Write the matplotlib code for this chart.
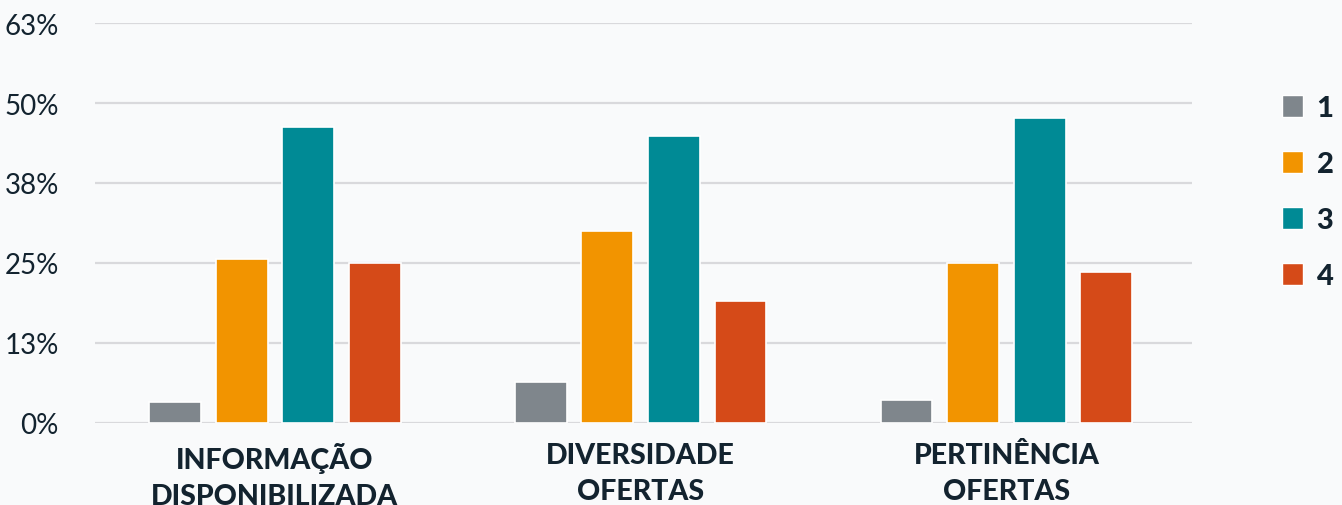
import matplotlib
matplotlib.use("Agg")
import matplotlib.pyplot as plt
from matplotlib.patches import Patch
import numpy as np

categories = ["INFORMAÇÃO\nDISPONIBILIZADA", "DIVERSIDADE\nOFERTAS", "PERTINÊNCIA\nOFERTAS"]
series_names = ["1", "2", "3", "4"]
s1 = [3.2, 6.3, 3.5]
s2 = [25.6, 30.0, 24.9]
s3 = [46.3, 44.8, 47.7]
s4 = [24.9, 19.0, 23.6]
yticks = [0, 12.5, 25, 37.5, 50, 62.5]
ytick_labels = ["0%", "13%", "25%", "38%", "50%", "63%"]

colors = ["#7f868c", "#f29400", "#008a95", "#d54a18"]
bg = "#f9fafb"
textc = "#13232f"

fig = plt.figure(figsize=(13.42, 5.06), dpi=100, facecolor=bg)
ax = fig.add_axes([0.0708, 0.163, 0.8175, 0.789], facecolor=bg)

x = np.arange(len(categories))
pitch = 0.182
width = 0.142
for i, (vals, name) in enumerate(zip([s1, s2, s3, s4], series_names)):
    ax.bar(x + (i - 1.5) * pitch, vals, width, color=colors[i],
           edgecolor="white", linewidth=1.2, zorder=3, label=name)

ax.set_xlim(-0.492, 2.508)
ax.set_ylim(0, 62.5)
ax.set_yticks(yticks)
ax.set_yticklabels(ytick_labels, fontsize=20, color=textc, family="Lato", fontweight="normal")
ax.set_xticks(x)
ax.set_xticklabels(categories, fontsize=20.5, color=textc, family="Lato",
                   fontweight="black", linespacing=1.5)
ax.tick_params(axis="y", length=0, pad=26)
ax.tick_params(axis="x", length=0, pad=14)
ax.grid(axis="y", color="#d9d9dc", linewidth=1.6, zorder=0)
ax.set_axisbelow(True)
for s in ax.spines.values():
    s.set_visible(False)

handles = [Patch(facecolor=c, edgecolor="white", linewidth=1) for c in colors]
leg = fig.legend(handles, series_names, loc="upper left", bbox_to_anchor=(0.955, 0.810),
                 frameon=False, handlelength=0.75, handleheight=0.75,
                 labelspacing=1.03, handletextpad=0.45, borderaxespad=0, borderpad=0,
                 prop={"family": "Lato", "weight": "black", "size": 21})
for t in leg.get_texts():
    t.set_color(textc)

fig.savefig("out.png", dpi=100, facecolor=bg)
